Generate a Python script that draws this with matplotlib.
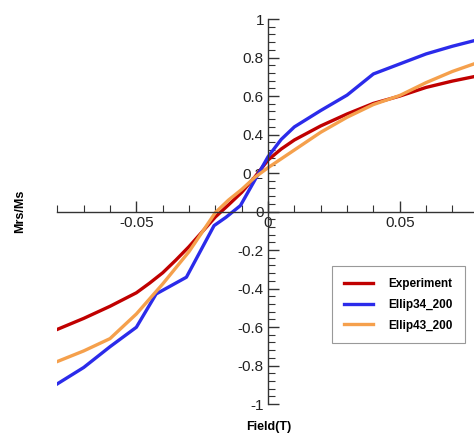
import matplotlib
matplotlib.use("Agg")
import matplotlib.pyplot as plt
from matplotlib.ticker import MultipleLocator, FixedLocator

# remanence ratio vs applied field
field_exp = [-0.08, -0.07, -0.06, -0.05, -0.045, -0.04, -0.035, -0.03, -0.02, -0.015, -0.01,
             -0.005, 0.0, 0.005, 0.01, 0.02, 0.03, 0.04, 0.05, 0.06, 0.07, 0.08]
experiment = [-0.612, -0.555, -0.492, -0.422, -0.372, -0.318, -0.252, -0.182, -0.028, 0.035, 0.100,
              0.180, 0.268, 0.325, 0.372, 0.445, 0.507, 0.562, 0.600, 0.645, 0.678, 0.706]

field_34 = [-0.08, -0.07, -0.06, -0.05, -0.0425, -0.031, -0.0205, -0.016, -0.0105,
            0.0, 0.005, 0.01, 0.02, 0.03, 0.04, 0.05, 0.06, 0.07, 0.08]
ellip34 = [-0.895, -0.810, -0.702, -0.601, -0.428, -0.341, -0.073, -0.030, 0.031,
           0.285, 0.375, 0.440, 0.525, 0.605, 0.715, 0.767, 0.819, 0.859, 0.894]

field_43 = [-0.08, -0.07, -0.06, -0.05, -0.04, -0.03, -0.02, -0.015, -0.01, -0.005, 0.0,
            0.01, 0.02, 0.03, 0.04, 0.05, 0.06, 0.07, 0.08]
ellip43 = [-0.779, -0.724, -0.660, -0.532, -0.376, -0.208, -0.005, 0.060, 0.115, 0.178, 0.228,
           0.320, 0.412, 0.490, 0.556, 0.603, 0.670, 0.728, 0.776]

plt.rcParams['font.family'] = ['Liberation Sans', 'DejaVu Sans']

fig = plt.figure(figsize=(4.74, 4.34), dpi=100)
ax = fig.add_axes([0.121, 0.069, 0.889, 0.887])

ax.plot(field_exp, experiment, color='#c00000', lw=2.4, label='Experiment')
ax.plot(field_34, ellip34, color='#2b2bea', lw=2.4, label='Ellip34_200')
ax.plot(field_43, ellip43, color='#f5a04c', lw=2.4, label='Ellip43_200')

ax.set_xlim(-0.08, 0.08)
ax.set_ylim(-1, 1)

# axes cross at the origin
for side in ['top', 'right']:
    ax.spines[side].set_visible(False)
ax.spines['left'].set_position('zero')
ax.spines['bottom'].set_position('zero')
for side in ['left', 'bottom']:
    ax.spines[side].set_color('#333333')
    ax.spines[side].set_linewidth(1.0)

ax.xaxis.set_major_locator(FixedLocator([-0.05, 0, 0.05]))
ax.xaxis.set_minor_locator(MultipleLocator(0.01))
ax.yaxis.set_major_locator(MultipleLocator(0.2))
ax.yaxis.set_minor_locator(MultipleLocator(0.04))
ax.xaxis.set_major_formatter(plt.FuncFormatter(lambda v, p: '0' if abs(v) < 1e-9 else f'{v:g}'))
ax.yaxis.set_major_formatter(plt.FuncFormatter(lambda v, p: '0' if abs(v) < 1e-9 else f'{v:g}'))

ax.tick_params(which='both', direction='in', colors='#333333', labelcolor='#222222',
               labelsize=11)
ax.tick_params(which='major', length=8, width=1.0, pad=3)
ax.tick_params(which='minor', length=5, width=0.8)

fig.text(0.043, 0.512, 'Mrs/Ms', rotation=90, ha='center', va='center',
         fontsize=9, fontweight='bold')
fig.text(0.566, 0.016, 'Field(T)', ha='center', va='center',
         fontsize=9, fontweight='bold')

leg = ax.legend(loc='upper left', bbox_to_anchor=(332 / 474, 1 - 266 / 434),
                bbox_transform=fig.transFigure, borderaxespad=0,
                prop={'size': 8.5, 'weight': 'bold'},
                fancybox=False, framealpha=1, edgecolor='#999999',
                handlelength=2.5, handletextpad=1.3, borderpad=1.0, labelspacing=0.75)
leg.get_frame().set_linewidth(0.8)

fig.savefig('out.png', dpi=100)
